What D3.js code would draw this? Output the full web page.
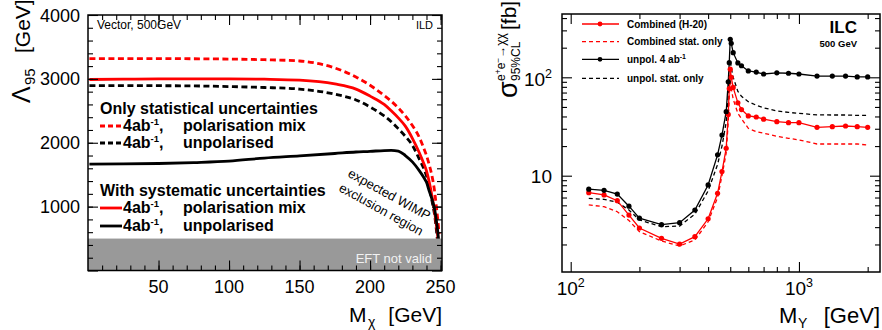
<!DOCTYPE html>
<html>
<head>
<meta charset="utf-8">
<script src="https://cdn.jsdelivr.net/npm/d3@7"></script>
<style>
  body { margin: 0; background: #fff; }
  svg { display: block; font-family: "Liberation Sans", Arial, Helvetica, sans-serif; }
</style>
</head>
<body>
<svg id="chart" width="882" height="330"></svg>
<script>
// ---- left panel: Lambda_95 vs M_chi (vector, 500 GeV)
const mChi       = [1, 25, 50, 75, 100, 125, 150, 175, 190, 200, 210, 215, 220, 225, 230, 235, 238, 240, 242, 244, 246, 247, 248, 249];
const statPolMix = [3318, 3318, 3318, 3315, 3310, 3300, 3280, 3170, 3030, 2900, 2740, 2650, 2545, 2420, 2270, 2080, 1920, 1800, 1650, 1470, 1200, 1000, 800, 570];
const statUnpol  = [2895, 2895, 2893, 2890, 2880, 2865, 2840, 2760, 2670, 2560, 2420, 2330, 2220, 2100, 1960, 1740, 1600, 1480, 1310, 1080, 830, 640, 420, 200];
const systPolMix = [2990, 2995, 3000, 3000, 3000, 2995, 2980, 2920, 2840, 2730, 2600, 2500, 2390, 2260, 2070, 1840, 1680, 1560, 1380, 1150, 880, 720, 540, 300];
const systUnpol  = [1665, 1668, 1675, 1690, 1712, 1760, 1795, 1832, 1855, 1865, 1878, 1880, 1870, 1800, 1700, 1560, 1460, 1380, 1240, 1110, 930, 780, 610, 380];
const eftLimit = 500;
const xTicksL = [50, 100, 150, 200, 250];
const yTicksL = [1000, 2000, 3000, 4000];

// ---- right panel: sigma_95 vs M_Y
const massY     = [120, 140, 160, 180, 200, 250, 300, 350, 400, 440, 460, 480, 490, 495, 500, 505, 515, 540, 560, 600, 650, 700, 800, 900, 1000, 1200, 1400, 1600, 1800, 2000];
const combSyst  = [6.72, 6.37, 5.57, 3.98, 2.94, 2.31, 2.02, 2.40, 3.65, 6.62, 11, 19, 42, 77, 121, 100, 79, 55, 47, 40.5, 39.5, 37.5, 35.4, 34.6, 34.6, 31, 31.5, 32, 31.5, 31];
const combStat  = [5.04, 4.84, 4.3, 3.5, 2.7, 2.17, 1.93, 2.22, 3.4, 6.0, 10, 17, 35, 62, 95, 78, 60, 43, 38, 30.3, 28, 27, 25.2, 24, 23.1, 21, 21, 21, 21, 20.5];
const unpolSyst = [7.3, 7.1, 6.5, 4.9, 3.7, 3.18, 3.33, 4.48, 8.05, 16.3, 25.9, 44.7, 90, 141, 243, 222, 178, 140, 131, 116, 113, 108, 111, 110, 108, 103, 103, 103, 101, 101];
const unpolStat = [5.89, 5.75, 5.37, 4.48, 3.55, 3.03, 3.08, 4.06, 7.0, 13, 20, 35, 65, 110, 150, 125, 100, 72, 64, 56.5, 52, 49, 45.5, 44, 43, 41.5, 41.4, 41.4, 41, 41];
const xDecades = [100, 1000];
const yDecades = [10, 100];

const RED = "#ff0000";
const svg = d3.select("#chart");

// inward ticks on all four sides of a frame
function frameTicks(g, x, y, xMajor, xMinor, yMajor, yMinor) {
  const [x0, x1] = x.range(), [y0, y1] = y.range();
  const put = (axis, tr) => g.append("g").attr("transform", tr)
      .call(axis.tickFormat(""))
      .call(a => a.select(".domain").remove())
      .call(a => a.selectAll("line").attr("stroke", "#000").attr("stroke-width", 1.1));
  put(d3.axisBottom(x).tickValues(xMajor).tickSize(-10), `translate(0,${y0})`);
  put(d3.axisBottom(x).tickValues(xMinor).tickSize(-5), `translate(0,${y0})`);
  put(d3.axisTop(x).tickValues(xMajor).tickSize(-10), `translate(0,${y1})`);
  put(d3.axisTop(x).tickValues(xMinor).tickSize(-5), `translate(0,${y1})`);
  put(d3.axisLeft(y).tickValues(yMajor).tickSize(-10), `translate(${x0},0)`);
  put(d3.axisLeft(y).tickValues(yMinor).tickSize(-5), `translate(${x0},0)`);
  put(d3.axisRight(y).tickValues(yMajor).tickSize(-10), `translate(${x1},0)`);
  put(d3.axisRight(y).tickValues(yMinor).tickSize(-5), `translate(${x1},0)`);
  g.append("rect").attr("x", x0).attr("y", y1).attr("width", x1 - x0).attr("height", y0 - y1)
    .attr("fill", "none").attr("stroke", "#000").attr("stroke-width", 1.5);
}

// ================= LEFT =================
const xL = d3.scaleLinear().domain([0, 251]).range([88, 442]);
const yL = d3.scaleLinear().domain([0, 4000]).range([270.5, 15]);
const left = svg.append("g");

left.append("clipPath").attr("id", "clipL").append("rect")
  .attr("x", xL(0)).attr("y", yL(4000)).attr("width", xL(251) - xL(0)).attr("height", yL(0) - yL(4000));

const lineL = d3.line().x((d, i) => xL(mChi[i])).y(d => yL(d)).curve(d3.curveMonotoneX);
const curvesL = [
  { v: statPolMix, c: RED, dash: "6,3.5" },
  { v: statUnpol, c: "#000", dash: "6,3.5" },
  { v: systPolMix, c: RED, dash: null },
  { v: systUnpol, c: "#000", dash: null }
];
left.append("g").attr("clip-path", "url(#clipL)")
  .selectAll("path").data(curvesL).join("path")
  .attr("d", d => lineL(d.v))
  .attr("fill", "none").attr("stroke", d => d.c).attr("stroke-width", 2.8)
  .attr("stroke-dasharray", d => d.dash);

left.append("rect")
  .attr("x", xL(0)).attr("y", yL(eftLimit)).attr("width", xL(251) - xL(0)).attr("height", yL(0) - yL(eftLimit))
  .attr("fill", "#999");
left.append("text").attr("x", 432).attr("y", 263).attr("text-anchor", "end")
  .attr("font-size", 13).attr("fill", "#f2f2f2").text("EFT not valid");

frameTicks(left, xL, yL, xTicksL, d3.range(10, 251, 10), d3.range(0, 4001, 1000), d3.range(200, 4000, 200));

left.selectAll(".xl").data(xTicksL).join("text")
  .attr("x", d => xL(d)).attr("y", 293).attr("text-anchor", "middle").attr("font-size", 18).text(d => d);
left.selectAll(".yl").data(yTicksL).join("text")
  .attr("x", 80).attr("y", d => yL(d) + 6.5).attr("text-anchor", "end").attr("font-size", 18).text(d => d);

// axis titles
left.append("text").attr("x", 349).attr("y", 322).attr("font-size", 21).text("M");
left.append("text").attr("x", 368).attr("y", 327).attr("font-size", 14).text("χ");
left.append("text").attr("x", 442).attr("y", 322).attr("text-anchor", "end").attr("font-size", 21).text("[GeV]");

const yTitleL = left.append("g").attr("transform", "translate(30,103) rotate(-90)");
yTitleL.append("text").attr("x", 0).attr("y", 0).attr("font-size", 25).text("Λ");
yTitleL.append("text").attr("x", 18).attr("y", 5).attr("font-size", 15).text("95");
yTitleL.append("text").attr("x", 50).attr("y", 0).attr("font-size", 21).text("[GeV]");

left.append("text").attr("x", 97).attr("y", 29).attr("font-size", 12).text("Vector, 500GeV");
left.append("text").attr("x", 433).attr("y", 29).attr("text-anchor", "end").attr("font-size", 11).text("ILD");

// legend blocks
function legendRow(g, y, color, dash, label) {
  g.append("line").attr("x1", 100).attr("x2", 122).attr("y1", y - 5).attr("y2", y - 5)
    .attr("stroke", color).attr("stroke-width", 2.8).attr("stroke-dasharray", dash);
  const t = g.append("text").attr("x", 123).attr("y", y).attr("font-size", 16).attr("font-weight", "bold");
  t.append("tspan").text("4ab");
  t.append("tspan").attr("dy", -6).attr("font-size", 9.5).text("-1");
  t.append("tspan").attr("dy", 6).text(",");
  g.append("text").attr("x", 183).attr("y", y).attr("font-size", 16).attr("font-weight", "bold").text(label);
}
left.append("text").attr("x", 100).attr("y", 114).attr("font-size", 16).attr("font-weight", "bold").text("Only statistical uncertainties");
legendRow(left, 131, RED, "5,3", "polarisation mix");
legendRow(left, 148, "#000", "5,3", "unpolarised");
left.append("text").attr("x", 100).attr("y", 196).attr("font-size", 16).attr("font-weight", "bold").text("With systematic uncertainties");
legendRow(left, 213, RED, null, "polarisation mix");
legendRow(left, 231, "#000", null, "unpolarised");

const wimp = left.append("g").attr("transform", "translate(347,176) rotate(29)");
wimp.append("text").attr("x", 0).attr("y", 0).attr("font-size", 13).text("expected WIMP");
wimp.append("text").attr("x", -1).attr("y", 17).attr("font-size", 13).text("exclusion region");

// ================= RIGHT =================
const xR = d3.scaleLog().domain([91.6, 2265]).range([562, 880]);
const yR = d3.scaleLog().domain([1.05, 440]).range([272, 14]);
const right = svg.append("g");

right.append("clipPath").attr("id", "clipR").append("rect")
  .attr("x", 562).attr("y", 14).attr("width", 318).attr("height", 258);

const lineR = d3.line().x((d, i) => xR(massY[i])).y(d => yR(d));
const seriesR = [
  { v: combStat, c: RED, dash: "4,3", mk: false },
  { v: unpolStat, c: "#000", dash: "4,3", mk: false },
  { v: combSyst, c: RED, dash: null, mk: true },
  { v: unpolSyst, c: "#000", dash: null, mk: true }
];
const plotR = right.append("g").attr("clip-path", "url(#clipR)");
plotR.selectAll("path").data(seriesR).join("path")
  .attr("d", d => lineR(d.v))
  .attr("fill", "none").attr("stroke", d => d.c).attr("stroke-width", 1.3)
  .attr("stroke-dasharray", d => d.dash);
seriesR.filter(s => s.mk).forEach(s => {
  plotR.append("g").selectAll("circle").data(s.v).join("circle")
    .attr("cx", (d, i) => xR(massY[i])).attr("cy", d => yR(d)).attr("r", 2.6).attr("fill", s.c);
});

const xMinorR = [200, 300, 400, 500, 600, 700, 800, 900, 2000];
const yMinorR = [2, 3, 4, 5, 6, 7, 8, 9, 20, 30, 40, 50, 60, 70, 80, 90, 200, 300, 400];
frameTicks(right, xR, yR, xDecades, xMinorR, yDecades, yMinorR);

function powLabel(g, x, y, anchor, exp) {
  const t = g.append("text").attr("x", x).attr("y", y).attr("text-anchor", anchor).attr("font-size", 19);
  t.append("tspan").text("10");
  if (exp) t.append("tspan").attr("dy", -8).attr("font-size", 12.5).text(exp);
}
powLabel(right, xR(100), 295, "middle", "2");
powLabel(right, xR(1000), 295, "middle", "3");
powLabel(right, 552, yR(10) + 7, "end", null);
powLabel(right, 552, yR(100) + 9, "end", "2");

right.append("text").attr("x", 779).attr("y", 323).attr("font-size", 22).text("M");
right.append("text").attr("x", 798).attr("y", 328).attr("font-size", 14).text("Y");
right.append("text").attr("x", 880).attr("y", 323).attr("text-anchor", "end").attr("font-size", 22).text("[GeV]");

const yTitleR = right.append("g").attr("transform", "translate(517,98) rotate(-90)");
yTitleR.append("text").attr("x", 0).attr("y", 0).attr("font-size", 27).text("σ");
const sup = yTitleR.append("text").attr("x", 17).attr("y", -12).attr("font-size", 12);
sup.append("tspan").text("e");
sup.append("tspan").attr("dy", -4).attr("font-size", 8.5).text("+");
sup.append("tspan").attr("dy", 4).text("e");
sup.append("tspan").attr("dy", -4).attr("font-size", 8.5).text("−");
sup.append("tspan").attr("dy", 4).text("→χχ");
yTitleR.append("text").attr("x", 17).attr("y", 3).attr("font-size", 12).text("95%CL");
yTitleR.append("text").attr("x", 68).attr("y", -1).attr("font-size", 21).text("[fb]");

right.append("text").attr("x", 857).attr("y", 33).attr("text-anchor", "end")
  .attr("font-size", 17).attr("font-weight", "bold").text("ILC");
right.append("text").attr("x", 857).attr("y", 47).attr("text-anchor", "end")
  .attr("font-size", 9.5).attr("font-weight", "bold").text("500 GeV");

const legR = [
  { y: 24, s: seriesR[2], label: "Combined (H-20)" },
  { y: 41.7, s: seriesR[0], label: "Combined stat. only" },
  { y: 59.3, s: seriesR[3], label: null },
  { y: 78.3, s: seriesR[1], label: "unpol. stat. only" }
];
legR.forEach(r => {
  right.append("line").attr("x1", 582).attr("x2", 619).attr("y1", r.y).attr("y2", r.y)
    .attr("stroke", r.s.c).attr("stroke-width", 1.3).attr("stroke-dasharray", r.s.dash);
  if (r.s.mk) right.append("circle").attr("cx", 600).attr("cy", r.y).attr("r", 2.4).attr("fill", r.s.c);
  const t = right.append("text").attr("x", 627).attr("y", r.y + 3.5).attr("font-size", 10).attr("font-weight", "bold");
  if (r.label) t.text(r.label);
  else {
    t.append("tspan").text("unpol. 4 ab");
    t.append("tspan").attr("dy", -4).attr("font-size", 7).text("-1");
  }
});
</script>
</body>
</html>
